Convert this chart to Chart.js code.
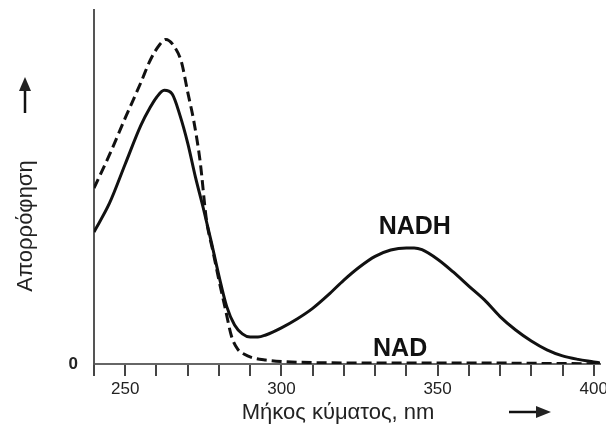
<!DOCTYPE html>
<html>
<head>
<meta charset="utf-8">
<script src="https://cdn.jsdelivr.net/npm/chart.js@4.4.1/dist/chart.umd.min.js"></script>
<style>
  html, body { margin: 0; padding: 0; background: #fff; }
  #wrap { width: 606px; height: 434px; position: relative; }
</style>
</head>
<body>
<div id="wrap"><canvas id="spectrum" width="606" height="434"></canvas></div>
<script>
// ── absorption spectra (arbitrary absorbance units) ──
const nadWavelength = [240, 245, 250, 255, 258, 261, 263, 266, 268, 270, 272, 274, 276, 278, 280, 282, 284, 286, 288, 291, 295, 300, 310, 330, 360, 400, 402];
const nadAbsorbance = [0.497, 0.592, 0.695, 0.795, 0.858, 0.902, 0.917, 0.893, 0.853, 0.768, 0.684, 0.571, 0.407, 0.322, 0.237, 0.158, 0.079, 0.042, 0.028, 0.017, 0.011, 0.007, 0.004, 0.003, 0.003, 0.001, 0.001];

const nadhWavelength = [240, 245, 250, 255, 258, 260, 262.5, 265, 267.5, 270, 272.5, 275, 277.5, 280, 282.5, 285, 287.5, 290, 292.5, 295, 300, 305, 310, 315, 320, 325, 330, 335, 340, 342.5, 345, 350, 355, 360, 365, 370, 375, 380, 385, 390, 395, 400, 402];
const nadhAbsorbance = [0.373, 0.455, 0.565, 0.674, 0.725, 0.753, 0.773, 0.763, 0.703, 0.624, 0.527, 0.440, 0.347, 0.249, 0.162, 0.110, 0.085, 0.076, 0.076, 0.082, 0.102, 0.127, 0.157, 0.195, 0.237, 0.274, 0.304, 0.322, 0.328, 0.328, 0.323, 0.296, 0.260, 0.220, 0.181, 0.134, 0.096, 0.065, 0.040, 0.023, 0.013, 0.006, 0.003];

const xTicks = [240, 250, 260, 270, 280, 290, 300, 310, 320, 330, 340, 350, 360, 370, 380, 390, 400];
const xLabels = [250, 300, 350, 400];
const yTicks = [0];

const FONT = '"Liberation Sans", Arial, sans-serif';

const toPoints = (xs, ys) => xs.map((x, i) => ({ x, y: ys[i] }));

// titles, arrows and the curve names
const decorations = {
  id: 'decorations',
  afterDraw(chart) {
    const { ctx, scales: { x, y } } = chart;
    ctx.save();
    ctx.fillStyle = '#111';
    ctx.strokeStyle = '#111';

    // curve names
    ctx.font = 'bold 25px ' + FONT;
    ctx.textAlign = 'center';
    ctx.textBaseline = 'middle';
    ctx.fillText('NADH', x.getPixelForValue(342.7), y.getPixelForValue(0.386));
    ctx.fillText('NAD', x.getPixelForValue(338), y.getPixelForValue(0.041));

    // x title + arrow
    ctx.font = '22px ' + FONT;
    ctx.fillStyle = '#222';
    ctx.fillText('Μήκος κύματος, nm', 338, 413);
    ctx.lineWidth = 2.5;
    ctx.beginPath(); ctx.moveTo(509, 412); ctx.lineTo(538, 412); ctx.stroke();
    ctx.beginPath(); ctx.moveTo(551, 412); ctx.lineTo(536, 406); ctx.lineTo(536, 418); ctx.closePath(); ctx.fill();

    // y title + arrow
    ctx.save();
    ctx.translate(26, 226);
    ctx.rotate(-Math.PI / 2);
    ctx.fillText('Απορρόφηση', 0, 0);
    ctx.restore();
    ctx.beginPath(); ctx.moveTo(25, 113); ctx.lineTo(25, 88); ctx.stroke();
    ctx.beginPath(); ctx.moveTo(25, 77); ctx.lineTo(19, 91); ctx.lineTo(31, 91); ctx.closePath(); ctx.fill();
    ctx.restore();
  }
};

new Chart(document.getElementById('spectrum'), {
  type: 'line',
  data: {
    datasets: [
      { label: 'NAD', data: toPoints(nadWavelength, nadAbsorbance), borderColor: '#111', borderWidth: 3, borderDash: [10, 5], pointRadius: 0, cubicInterpolationMode: 'monotone', fill: false },
      { label: 'NADH', data: toPoints(nadhWavelength, nadhAbsorbance), borderColor: '#111', borderWidth: 3, pointRadius: 0, cubicInterpolationMode: 'monotone', fill: false }
    ]
  },
  options: {
    responsive: false,
    animation: false,
    layout: { padding: { top: 10, right: 6, left: 0, bottom: 0 } },
    plugins: { legend: { display: false }, tooltip: { enabled: false } },
    scales: {
      x: {
        type: 'linear', min: 240, max: 402,
        afterBuildTicks: s => { s.ticks = xTicks.map(v => ({ value: v })); },
        afterFit: s => { s.height = 70; s.paddingLeft = 0; s.paddingRight = 0; },
        ticks: {
          autoSkip: false, maxRotation: 0, padding: 3,
          color: '#222', font: { family: FONT, size: 17 },
          callback: v => xLabels.includes(v) ? String(v) : ''
        },
        grid: { drawOnChartArea: false, drawTicks: true, tickLength: 12, color: '#444', lineWidth: 2 },
        border: { display: true, color: '#666', width: 2 }
      },
      y: {
        min: 0, max: 1,
        afterBuildTicks: s => { s.ticks = yTicks.map(v => ({ value: v })); },
        afterFit: s => { s.width = 94; s.paddingTop = 0; s.paddingBottom = 0; },
        ticks: { padding: 16, color: '#222', font: { family: FONT, size: 17, weight: 'bold' } },
        grid: { drawOnChartArea: false, drawTicks: false },
        border: { display: true, color: '#555', width: 2 }
      }
    }
  },
  plugins: [decorations]
});
</script>
</body>
</html>
